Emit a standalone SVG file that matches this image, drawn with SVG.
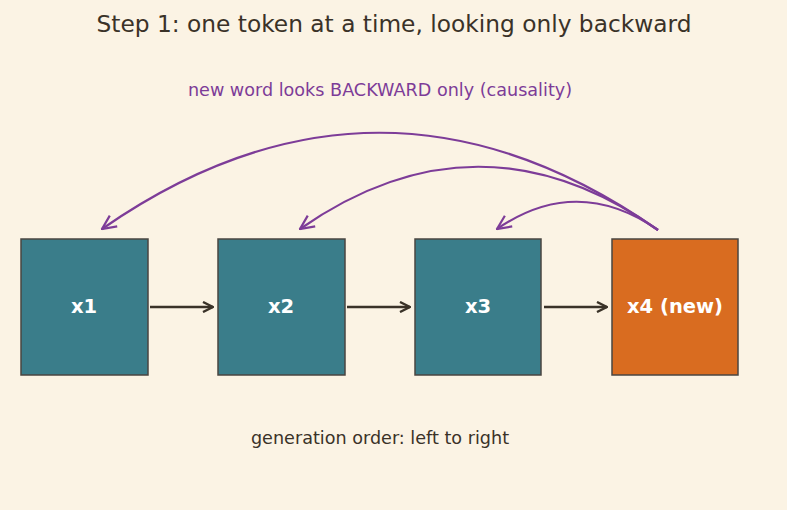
<svg xmlns="http://www.w3.org/2000/svg" width="787" height="510" viewBox="0 0 787 510">
<defs>
<style>
.bg{fill:#fbf3e4}
.box{stroke:#4a4540;stroke-width:1.5}
.teal{fill:#3a7d8a}
.orange{fill:#d96c20}
.lbl{font-family:"DejaVu Sans",sans-serif;font-weight:bold;font-size:19.5px;fill:#ffffff;text-anchor:middle}
.title{font-family:"DejaVu Sans",sans-serif;font-size:23.3px;fill:#3a3228;text-anchor:middle}
.sub{font-family:"DejaVu Sans",sans-serif;font-size:17.6px;fill:#7d3c98;text-anchor:middle}
.foot{font-family:"DejaVu Sans",sans-serif;font-size:17.6px;fill:#3a3228;text-anchor:middle}
.seq{fill:none;stroke:#3a3228;stroke-width:2.5}
.att{fill:none;stroke:#7d3c98;stroke-width:2.2}
</style>
<marker id="ah" viewBox="0 0 12 12" refX="11" refY="6" markerWidth="12" markerHeight="12" markerUnits="userSpaceOnUse" orient="auto">
<path d="M1,1 L11,6 L1,11" fill="none" stroke="#3a3228" stroke-width="2.4"/>
</marker>
<marker id="ap" viewBox="0 0 16 16" refX="15" refY="8" markerWidth="16" markerHeight="16" markerUnits="userSpaceOnUse" orient="auto">
<path d="M1,1.5 L15,8 L1,14.5" fill="none" stroke="#7d3c98" stroke-width="2.2"/>
</marker>
</defs>
<rect class="bg" x="0" y="0" width="787" height="510"/>
<text class="title" x="394" y="32">Step 1: one token at a time, looking only backward</text>
<text class="sub" x="380" y="96">new word looks BACKWARD only (causality)</text>
<text class="foot" x="380" y="444">generation order: left to right</text>
<g id="x1"><rect class="box teal" x="21" y="239" width="127" height="136"/><text class="lbl" x="84" y="313">x1</text></g>
<g id="x2"><rect class="box teal" x="218" y="239" width="127" height="136"/><text class="lbl" x="281" y="313">x2</text></g>
<g id="x3"><rect class="box teal" x="415" y="239" width="126" height="136"/><text class="lbl" x="478" y="313">x3</text></g>
<g id="x4"><rect class="box orange" x="612" y="239" width="126" height="136"/><text class="lbl" x="675" y="313">x4 (new)</text></g>
<g id="connectors">
<path class="seq" d="M150,307 L213,307" marker-end="url(#ah)"/>
<path class="seq" d="M347,307 L410,307" marker-end="url(#ah)"/>
<path class="seq" d="M544,307 L607,307" marker-end="url(#ah)"/>
<path class="att" d="M658,230 Q380,36 102,229" marker-end="url(#ap)"/>
<path class="att" d="M658,230 Q479,104 300,229" marker-end="url(#ap)"/>
<path class="att" d="M658,230 Q577,174 497,229" marker-end="url(#ap)"/>
</g>
</svg>
